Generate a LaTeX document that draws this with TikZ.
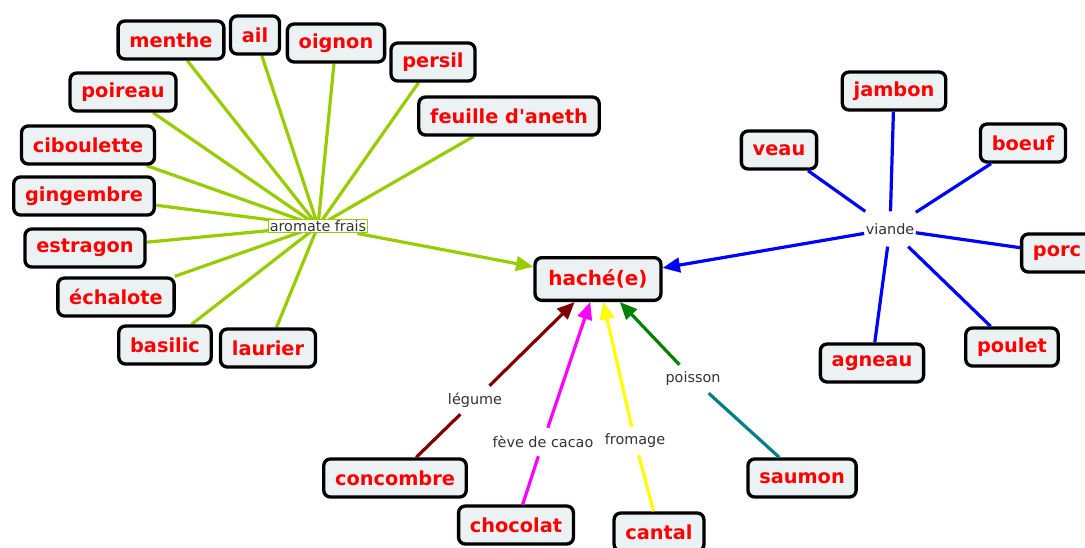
\documentclass[tikz,border=0pt]{standalone}
\usepackage{fontspec}
\setmainfont{DejaVu Sans}
\usetikzlibrary{arrows.meta}
\definecolor{boxfill}{RGB}{236,242,244}
\definecolor{herbgreen}{RGB}{153,204,0}
\definecolor{labelgray}{RGB}{51,51,51}
\definecolor{vegred}{RGB}{128,0,0}
\definecolor{cacaopink}{RGB}{255,0,255}
\definecolor{cheeseyellow}{RGB}{255,255,0}
\definecolor{fishteal}{RGB}{0,128,128}
\definecolor{fishgreen}{RGB}{0,128,0}
\pgfdeclarelayer{bg}
\pgfsetlayers{bg,main}
\tikzset{
  concept/.style={draw=black, line width=2.5pt, rounded corners=5pt, fill=boxfill, text=red,
    font=\fontsize{14.5}{17}\selectfont\bfseries, inner xsep=8.5pt, minimum height=28.5pt},
  link/.style={fill=white, text=labelgray, font=\fontsize{10.8}{13}\selectfont, inner xsep=1pt, minimum height=21pt},
  conn/.style={line width=2.4pt},
  arrowto/.style={-{Triangle[length=13pt,width=11pt]}}
}
\begin{document}
\begin{tikzpicture}[x=0.75pt,y=-0.75pt]
\useasboundingbox (0,0) rectangle (1085,547);
\clip (0,0) rectangle (1085,547);
\node[concept] (menthe) at (171,40) {menthe};
\node[concept] (ail) at (255,35) {ail};
\node[concept] (oignon) at (336,43) {oignon};
\node[concept] (persil) at (433,62) {persil};
\node[concept] (aneth) at (509,116) {feuille d\textquotesingle aneth};
\node[concept] (poireau) at (123,92) {poireau};
\node[concept] (ciboulette) at (88,145) {ciboulette};
\node[concept] (gingembre) at (84,196) {gingembre};
\node[concept] (estragon) at (85,248) {estragon};
\node[concept] (echalote) at (116,297) {échalote};
\node[concept] (basilic) at (165,345) {basilic};
\node[concept] (laurier) at (268,348) {laurier};
\node[link, draw=herbgreen, line width=0.8pt, inner sep=1pt, minimum height=0pt] (aromate) at (318,226) {aromate frais};
\node[concept, font=\fontsize{15}{18}\selectfont\bfseries, inner xsep=10pt, minimum height=32pt] (hache) at (598,279) {haché(e)};
\node[link, minimum height=26pt] (viande) at (890,229) {viande};
\node[concept] (jambon) at (894,91) {jambon};
\node[concept] (veau) at (779,150) {veau};
\node[concept] (boeuf) at (1023,143) {boeuf};
\node[concept] (porc) at (1057,253) {porc};
\node[concept] (poulet) at (1012,347) {poulet};
\node[concept] (agneau) at (872,363) {agneau};
\node[link] (legume) at (475,400) {légume};
\node[link] (cacao) at (543,442) {fève de cacao};
\node[link] (fromage) at (635,441) {fromage};
\node[link] (poisson) at (693,379) {poisson};
\node[concept] (concombre) at (395,478) {concombre};
\node[concept] (chocolat) at (516,525) {chocolat};
\node[concept] (cantal) at (659,532) {cantal};
\node[concept] (saumon) at (802,478) {saumon};
\begin{pgfonlayer}{bg}
\foreach \n in {menthe,ail,oignon,persil,aneth,poireau,ciboulette,gingembre,estragon,echalote,basilic,laurier}
  {\draw[conn,herbgreen] (\n) -- (aromate.center);}
\end{pgfonlayer}
\draw[conn,herbgreen,arrowto] (aromate) -- (hache);
\foreach \n in {jambon,veau,boeuf,porc,poulet,agneau}
  {\draw[conn,blue] (\n) -- (viande);}
\draw[conn,blue,arrowto] (viande) -- (hache);
\draw[conn,vegred] (concombre) -- (legume);
\draw[conn,vegred,arrowto] (legume) -- (hache);
\draw[conn,cacaopink] (chocolat) -- (cacao);
\draw[conn,cacaopink,arrowto] (cacao) -- (hache);
\draw[conn,cheeseyellow] (cantal) -- (fromage);
\draw[conn,cheeseyellow,arrowto] (fromage) -- (hache);
\draw[conn,fishteal] (saumon) -- (poisson);
\draw[conn,fishgreen,arrowto] (poisson) -- (hache);
\end{tikzpicture}
\end{document}
